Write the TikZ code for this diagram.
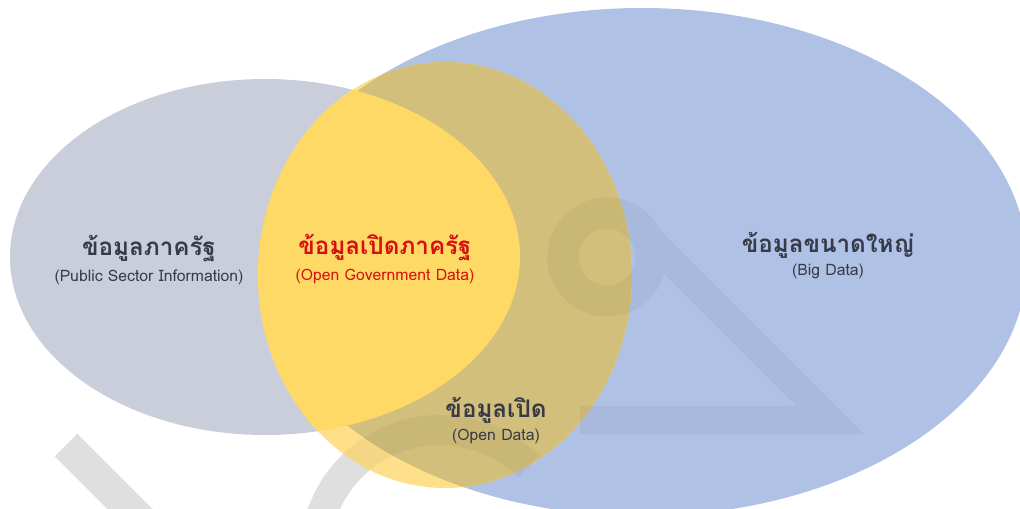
\documentclass[tikz,border=0pt]{standalone}
\usepackage{fontspec}
\setmainfont[Script=Thai]{Loma}
\usetikzlibrary{positioning}

\definecolor{bigblue}{RGB}{175,193,228}
\definecolor{pubgray}{RGB}{201,206,218}
\definecolor{openyel}{RGB}{254,224,138}
\definecolor{govyel}{RGB}{255,217,102}
\definecolor{khaki}{RGB}{210,191,123}
\definecolor{textdark}{RGB}{55,58,72}
\definecolor{govred}{RGB}{214,16,16}
\definecolor{markgray}{RGB}{233,233,233}

% faint logo in the background
\newcommand{\drawmark}[1]{%
  \draw[#1,line width=0.8cm] (66,445) -- (160,539);
  \draw[#1,line width=0.75cm] (440,555) ++(190:125) arc[start angle=190,end angle=315,radius=125];
  \draw[#1,line width=0.78cm] (607,257) circle[radius=44];
  \draw[#1,line width=0.7cm,miter limit=4] (625,215) -- (830,420) -- (580,420);
}

\begin{document}
\begin{tikzpicture}[x=0.025cm,y=-0.025cm,
  title/.style={font=\fontsize{17.2}{20}\selectfont\bfseries,text=textdark,inner sep=0pt},
  sub/.style={font=\fontsize{11.2}{13}\selectfont,text=textdark,inner sep=0pt}]
  \path[use as bounding box] (0,0) rectangle (1020,508);
  \clip (0,0) rectangle (1020,508);

  \drawmark{markgray}

  % the three sets
  \fill[bigblue] (642,262) ellipse[x radius=385,y radius=254];
  \fill[pubgray] (265,257) ellipse[x radius=255,y radius=178];
  \fill[openyel] (445,275) ellipse[x radius=187,y radius=213];
  \begin{scope}
    \clip (445,275) ellipse[x radius=187,y radius=213];
    \fill[khaki] (642,262) ellipse[x radius=385,y radius=254];
    \fill[govyel] (265,257) ellipse[x radius=255,y radius=178];
  \end{scope}

  \begin{scope}[transparency group,opacity=0.04]
    \drawmark{black}
  \end{scope}

  % labels
  \node[title]             (pub)    at (149,249)        {ข้อมูลภาครัฐ};
  \node[sub]               (pubEn)  [below=5pt of pub]  {(Public Sector Information)};
  \node[title,text=govred] (gov)    at (385,248)        {ข้อมูลเปิดภาครัฐ};
  \node[sub,text=govred]   (govEn)  [below=5pt of gov]  {(Open Government Data)};
  \node[title]             (big)    at (828,245)        {ข้อมูลขนาดใหญ่};
  \node[sub]               (bigEn)  [below=4pt of big]  {(Big Data)};
  \node[title]             (open)   at (496,410)        {ข้อมูลเปิด};
  \node[sub]               (openEn) [below=4pt of open] {(Open Data)};
\end{tikzpicture}
\end{document}
